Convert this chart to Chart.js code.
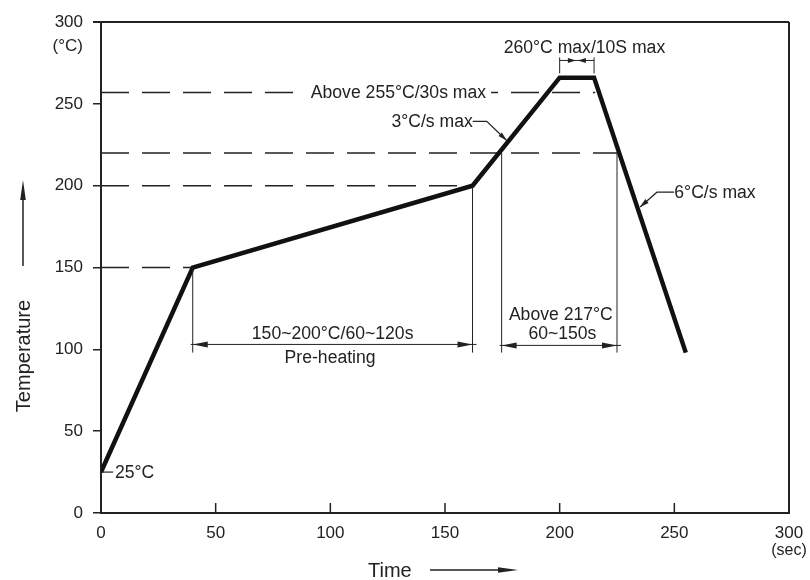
<!DOCTYPE html>
<html>
<head>
<meta charset="utf-8">
<title>Reflow profile</title>
<script src="https://cdn.jsdelivr.net/npm/chart.js@4.4.1/dist/chart.umd.min.js"></script>
<style>
  html, body { margin: 0; padding: 0; background: #fff; }
  #wrap { width: 810px; height: 580px; }
</style>
</head>
<body>
<div id="wrap"><canvas id="chart" width="810" height="580"></canvas></div>
<script>
// ================= DATA =================
// reflow profile: time (sec) vs temperature (°C)
const profileTime = [0, 40, 162, 200, 215, 255];
const profileTemp = [25, 150, 200, 266, 266, 98];

// dashed reference levels and the time where each one stops
const refLevels = [150, 200, 220, 257];
const refEnds = [40, 162, 225, 215.5];

const xTicks = [0, 50, 100, 150, 200, 250, 300];
const yTicks = [0, 50, 100, 150, 200, 250, 300];

const FONT = "'Liberation Sans', Arial, sans-serif";
const INK = "#222";

// ================= ANNOTATIONS (in data units) =================
const labels = [
  { text: "Above 255°C/30s max", x: 129.7, y: 257, align: "center", box: true },
  { text: "3°C/s max", x: 162.1, y: 239.3, align: "right" },
  { text: "260°C max/10S max", x: 210.8, y: 284.7, align: "center" },
  { text: "6°C/s max", x: 250, y: 196, align: "left" },
  { text: "25°C", x: 6.1, y: 25, align: "left" },
  { text: "150~200°C/60~120s", x: 101, y: 109.6, align: "center" },
  { text: "Pre-heating", x: 99.9, y: 95.3, align: "center" },
  { text: "Above 217°C", x: 200.5, y: 121.8, align: "center" },
  { text: "60~150s", x: 201.2, y: 109.6, align: "center" }
];

// leader lines: list of points, arrow at the last one
const leaders = [
  [[162.1, 239.3], [168.2, 239.3], [176.9, 227.6]],
  [[249.9, 196], [242.4, 196], [235.1, 187]],
  [[0.5, 25], [5.3, 25]]
];

// dimension marks: two extension lines and a double arrow
const dims = [
  { x1: 40, x2: 162, top1: 150, top2: 200, bottom: 98, y: 103, inward: false },
  { x1: 174.7, x2: 225, top1: 220, top2: 220, bottom: 98, y: 102.4, inward: false },
  { x1: 200, x2: 215, top1: 278.4, top2: 278.4, bottom: 268.6, y: 276.5, inward: true }
];

// ================= HELPERS =================
function arrowHead(ctx, fx, fy, tx, ty, len, half) {
  const a = Math.atan2(ty - fy, tx - fx);
  const bx = tx - len * Math.cos(a);
  const by = ty - len * Math.sin(a);
  ctx.beginPath();
  ctx.moveTo(tx, ty);
  ctx.lineTo(bx + half * Math.sin(a), by - half * Math.cos(a));
  ctx.lineTo(bx - half * Math.sin(a), by + half * Math.cos(a));
  ctx.closePath();
  ctx.fill();
}

function line(ctx, x1, y1, x2, y2) {
  ctx.beginPath();
  ctx.moveTo(x1, y1);
  ctx.lineTo(x2, y2);
  ctx.stroke();
}

// ================= PLUGINS =================
const whiteBg = {
  id: "whiteBg",
  beforeDraw(chart) {
    const ctx = chart.ctx;
    ctx.save();
    ctx.fillStyle = "#fff";
    ctx.fillRect(0, 0, chart.width, chart.height);
    ctx.restore();
  }
};

const decorations = {
  id: "decorations",
  afterDraw(chart) {
    const ctx = chart.ctx;
    const xs = chart.scales.x, ys = chart.scales.y;
    const area = chart.chartArea;
    const X = v => xs.getPixelForValue(v);
    const Y = v => ys.getPixelForValue(v);

    ctx.save();
    ctx.strokeStyle = INK;
    ctx.fillStyle = INK;

    // frame: top and right sides
    ctx.lineWidth = 2;
    line(ctx, area.left - 8, area.top, area.right, area.top);
    line(ctx, area.right, area.top, area.right, area.bottom);

    // inward ticks on the time axis
    ctx.lineWidth = 1.5;
    xTicks.forEach(v => {
      if (v === 0 || v === 300) return;
      line(ctx, X(v), area.bottom, X(v), area.bottom - 10);
    });

    // dimension marks
    ctx.lineWidth = 1;
    dims.forEach(d => {
      const x1 = X(d.x1), x2 = X(d.x2), y = Y(d.y), yb = Y(d.bottom);
      line(ctx, x1, Y(d.top1), x1, yb);
      line(ctx, x2, Y(d.top2), x2, yb);
      if (d.inward) {
        line(ctx, x1, y, x2, y);
        const mid = (x1 + x2) / 2;
        arrowHead(ctx, x1, y, mid - 1, y, 8, 2.5);
        arrowHead(ctx, x2, y, mid + 1, y, 8, 2.5);
      } else {
        line(ctx, x1 - 2, y, x2 + 4, y);
        arrowHead(ctx, x1 + 20, y, x1, y, 15, 3);
        arrowHead(ctx, x2 - 20, y, x2, y, 15, 3);
      }
    });

    // leader lines
    ctx.lineWidth = 1.2;
    leaders.forEach(pts => {
      ctx.beginPath();
      pts.forEach((p, i) => {
        if (i === 0) ctx.moveTo(X(p[0]), Y(p[1]));
        else ctx.lineTo(X(p[0]), Y(p[1]));
      });
      ctx.stroke();
      if (pts.length > 2) {
        const a = pts[pts.length - 2], b = pts[pts.length - 1];
        arrowHead(ctx, X(a[0]), Y(a[1]), X(b[0]), Y(b[1]), 9, 2.5);
      }
    });

    // annotation texts
    ctx.font = "17.6px " + FONT;
    ctx.textBaseline = "middle";
    labels.forEach(l => {
      const x = X(l.x), y = Y(l.y);
      ctx.textAlign = l.align;
      if (l.box) {
        const w = ctx.measureText(l.text).width;
        ctx.fillStyle = "#fff";
        ctx.fillRect(x - w / 2 - 7, y - 6, w + 12, 12);
        ctx.fillStyle = INK;
      }
      ctx.fillText(l.text, x, y + 1);
    });

    // unit labels
    ctx.font = "17px " + FONT;
    ctx.textAlign = "right";
    ctx.fillText("(°C)", area.left - 18, 46);
    ctx.font = "16px " + FONT;
    ctx.textAlign = "center";
    ctx.fillText("(sec)", area.right, 551);

    // axis titles with arrows
    ctx.font = "20px " + FONT;
    ctx.textAlign = "left";
    ctx.fillText("Time", 368, 571);
    ctx.lineWidth = 1.5;
    line(ctx, 430, 570, 505, 570);
    arrowHead(ctx, 430, 570, 518, 570, 20, 2.8);

    ctx.save();
    ctx.translate(24, 356);
    ctx.rotate(-Math.PI / 2);
    ctx.textAlign = "center";
    ctx.fillText("Temperature", 0, 0);
    ctx.restore();
    line(ctx, 23, 266, 23, 195);
    arrowHead(ctx, 23, 266, 23, 180, 20, 2.8);

    ctx.restore();
  }
};

// ================= CHART =================
const datasets = [{
  data: profileTime.map((t, i) => ({ x: t, y: profileTemp[i] })),
  borderColor: "#111",
  borderWidth: 4.5,
  pointRadius: 0,
  tension: 0,
  order: 0
}];

refLevels.forEach((lv, i) => {
  datasets.push({
    data: [{ x: 0, y: lv }, { x: refEnds[i], y: lv }],
    borderColor: INK,
    borderWidth: 1.5,
    borderDash: [28, 13],
    pointRadius: 0,
    order: 1
  });
});

new Chart(document.getElementById("chart"), {
  type: "line",
  data: { datasets: datasets },
  options: {
    responsive: false,
    animation: false,
    layout: { padding: { left: 0, right: 21, top: 22, bottom: 0 } },
    plugins: {
      legend: { display: false },
      tooltip: { enabled: false }
    },
    scales: {
      x: {
        type: "linear",
        min: 0,
        max: 300,
        afterBuildTicks(scale) { scale.ticks = xTicks.map(v => ({ value: v })); },
        ticks: { color: INK, font: { family: FONT, size: 17 }, padding: 10, maxRotation: 0, autoSkip: false },
        grid: { drawOnChartArea: false, drawTicks: false },
        border: { color: INK, width: 2 },
        afterFit(scale) {
          scale.height = 67;
          scale.paddingLeft = 0;
          scale.paddingRight = 0;
        }
      },
      y: {
        type: "linear",
        min: 0,
        max: 300,
        afterBuildTicks(scale) { scale.ticks = yTicks.map(v => ({ value: v })); },
        ticks: { color: INK, font: { family: FONT, size: 17 }, padding: 10, autoSkip: false },
        grid: { drawOnChartArea: false, tickLength: 8, color: INK, lineWidth: 1.5 },
        border: { color: INK, width: 2 },
        afterFit(scale) {
          scale.width = 101;
          scale.paddingTop = 0;
          scale.paddingBottom = 0;
        }
      }
    }
  },
  plugins: [whiteBg, decorations]
});
</script>
</body>
</html>
